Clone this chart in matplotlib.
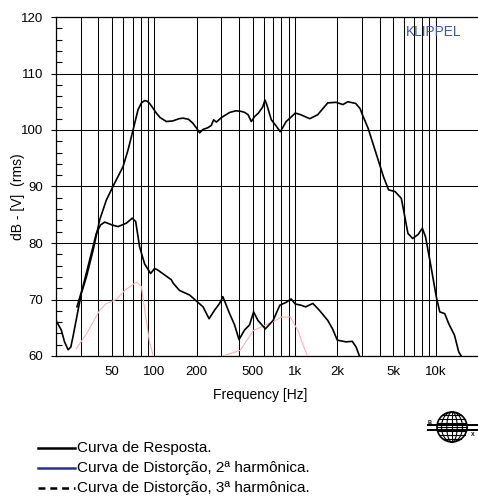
import numpy as np
import matplotlib
matplotlib.use("Agg")
import matplotlib.pyplot as plt
from matplotlib.patches import Ellipse, Rectangle
from matplotlib.lines import Line2D

plt.rcParams['font.family'] = ['Liberation Sans', 'DejaVu Sans']
plt.rcParams['lines.scale_dashes'] = False

# ---------------- data ----------------
resp_freq = [20.0, 21.8, 23.0, 24.4, 25.5, 26.4, 28.7, 30.3, 32.9, 36.7, 40.9, 45.6, 52.2,
             59.9, 65.1, 70.6, 76.6, 81.0, 85.3, 89.0, 92.6, 97.0, 103.3, 110, 121.7, 135,
             150, 160, 175, 188, 200, 210, 222, 240, 254, 264, 276, 300, 343, 380,
             415, 440, 464, 489, 517, 550, 590, 612, 630, 679, 730, 786, 866, 930, 1005,
             1100, 1273, 1450, 1580, 1709, 1964, 2190, 2374, 2700, 2900, 3050, 3310, 3800,
             4260, 4630, 5150, 5700, 6000, 6350, 6860, 7500, 8040, 8470, 9180, 10100, 10700,
             11600, 12400, 13600, 14600, 15200]
resp_db = [66.3, 64.6, 62.5, 61.1, 61.6, 63.4, 68.1, 71.1, 74.0, 78.7, 84.1, 87.6, 90.6,
           93.5, 96.5, 100.0, 103.6, 104.8, 105.2, 105.1, 104.7, 104.0, 103.0, 102.2, 101.5,
           101.6, 102.0, 102.1, 101.9, 101.2, 100.3, 99.5, 100.1, 100.4, 100.8, 101.8,
           101.4, 102.2, 103.1, 103.4, 103.3, 103.1, 102.7, 101.5, 102.4, 103.0, 104.1,
           105.3, 104.5, 101.8, 100.8, 99.7, 101.5, 102.2, 103.0, 102.7, 102.0, 102.7,
           103.8, 104.8, 104.9, 104.5, 105.0, 104.7, 103.8, 102.4, 100.3, 95.6, 91.7, 89.4,
           89.1, 87.9, 85.0, 81.7, 80.8, 81.5, 82.6, 81.1, 76.4, 70.5, 67.8, 67.5, 65.7,
           63.7, 60.7, 60.0]

dist_freq = [28.2, 31.1, 34.7, 38.7, 41.5, 44.4, 50.0, 55.2, 63.2, 69.7, 73.7, 78.6, 85.3,
             94.1, 100.5, 106, 132, 136, 151, 178, 222, 245, 268, 291, 307, 343, 372, 400,
             438, 475, 508, 545, 616, 699, 781, 866, 939, 1005, 1100, 1190, 1340, 1490,
             1709, 1850, 2000, 2310, 2550, 2720, 2870]
dist_db = [68.7, 72.3, 77.0, 81.7, 83.2, 83.7, 83.2, 82.9, 83.5, 84.4, 83.8, 79.3, 76.3,
           74.6, 75.5, 75.2, 73.5, 72.9, 71.6, 70.8, 68.7, 66.6, 68.1, 69.3, 70.5, 67.5,
           65.5, 62.9, 64.6, 65.5, 67.8, 66.3, 64.8, 66.3, 69.0, 69.5, 70.1, 69.2, 69.0,
           68.7, 69.3, 68.1, 66.3, 64.8, 62.8, 62.5, 62.6, 61.6, 60.0]

pink1_freq = [27.9, 32.9, 40.9, 45.6, 53.7, 61.5, 70.0, 74.5, 80.9, 86.8, 92.6, 97.9]
pink1_db = [61.3, 63.9, 68.1, 69.3, 70.0, 71.6, 72.6, 73.1, 72.3, 67.0, 62.3, 60.2]
pink2_freq = [305, 408, 505, 620, 728, 800, 925, 1050, 1130, 1220]
pink2_db = [60.0, 61.0, 64.5, 65.5, 66.3, 66.9, 66.9, 64.5, 62.2, 60.2]

x_ticks = [50, 100, 200, 500, 1000, 2000, 5000, 10000]
x_ticklabels = ['50', '100', '200', '500', '1k', '2k', '5k', '10k']
y_ticks = [60, 70, 80, 90, 100, 110, 120]
legend_labels = ['Curva de Resposta.',
                 'Curva de Distorção, 2ª harmônica.',
                 'Curva de Distorção, 3ª harmônica.']

# ---------------- figure ----------------
W, H = 478, 500
fig = plt.figure(figsize=(W / 100, H / 100), dpi=100)
ax = fig.add_axes([56 / W, 144 / H, 422 / W, 339 / H])
ax.set_xscale('log')
ax.set_xlim(20, 20000)
ax.set_ylim(60, 120)

grid_minor = [f * d for d in (10, 100, 1000) for f in range(2, 10)] + [10000]
ax.set_xticks(grid_minor, minor=True)
ax.set_xticks(x_ticks)
ax.set_xticklabels(x_ticklabels)
ax.xaxis.set_minor_formatter(matplotlib.ticker.NullFormatter())
ax.tick_params(axis='x', which='both', length=0, pad=7, labelsize=9.5)
ax.set_yticks(y_ticks)
ax.set_yticks(np.arange(60, 121, 2), minor=True)
ax.tick_params(axis='y', which='major', direction='out', length=3.6, width=0.8,
               pad=5.5, labelsize=9.5)
ax.tick_params(axis='y', which='minor', direction='in', length=4, width=0.8)
ax.grid(True, axis='x', which='both', color='black', lw=0.75)
ax.grid(True, axis='y', which='major', color='black', lw=0.75)
ax.spines['right'].set_visible(False)
for s in ('left', 'top', 'bottom'):
    ax.spines[s].set_linewidth(0.9)

ax.plot(pink1_freq, pink1_db, color='#f6b4b4', lw=0.8, zorder=3)
ax.plot(pink2_freq, pink2_db, color='#f6b4b4', lw=0.8, zorder=3)
ax.plot(dist_freq, dist_db, color='black', lw=1.2, zorder=4, solid_joinstyle='round')
ax.plot(resp_freq, resp_db, color='black', lw=1.2, zorder=5, solid_joinstyle='round')

ax.text(0.96, 0.955, 'KLIPPEL', transform=ax.transAxes, ha='right', va='center',
        fontsize=9.8, color='#3a58a8')

fig.text(18 / W, 1 - 197 / H, 'dB - [V]  (rms)', rotation=90, ha='center', va='center',
         fontsize=10)
fig.text(260 / W, 1 - 395 / H, 'Frequency [Hz]', ha='center', va='center', fontsize=10)

# legend
styles = [dict(color='black', lw=1.8),
          dict(color='#2e2e8e', lw=1.8),
          dict(color='black', lw=1.8, dashes=(5, 3.5))]
for i, (lab, st) in enumerate(zip(legend_labels, styles)):
    y = 1 - (448 + 20 * i) / H
    fig.add_artist(Line2D([38 / W, 75 / W], [y, y], transform=fig.transFigure, **st))
    fig.text(77 / W, y, lab, ha='left', va='center', fontsize=11)

# logo
cx, cy, r = 452 / W, 1 - 427 / H, 15
rx, ry = r / W, r / H
lw = 0.8
fig.add_artist(Ellipse((cx, cy), 2 * rx, 2 * ry, transform=fig.transFigure,
                       fill=False, lw=1.2, color='black'))
for k in (0.35, 0.7):
    fig.add_artist(Ellipse((cx, cy), 2 * rx * k, 2 * ry, transform=fig.transFigure,
                           fill=False, lw=lw, color='black'))
fig.add_artist(Line2D([cx, cx], [cy - ry, cy + ry], transform=fig.transFigure,
                      lw=lw, color='black'))
for t in np.linspace(-0.8, 0.8, 7):
    half = np.sqrt(1 - t * t) * rx
    fig.add_artist(Line2D([cx - half, cx + half], [cy + t * ry, cy + t * ry],
                          transform=fig.transFigure, lw=lw, color='black'))
fig.add_artist(Rectangle((427 / W, cy + 1 / H), 51 / W, 2.5 / H, transform=fig.transFigure,
                         color='black', lw=0))
fig.add_artist(Rectangle((427 / W, cy - 4 / H), 51 / W, 2.5 / H, transform=fig.transFigure,
                         color='black', lw=0))
fig.text(428 / W, cy + 5 / H, 'B', fontsize=4, fontweight='bold', ha='left', va='center')
fig.text(473 / W, cy - 8 / H, 'X', fontsize=4, fontweight='bold', ha='center', va='center')

fig.savefig('out.png', dpi=100)
